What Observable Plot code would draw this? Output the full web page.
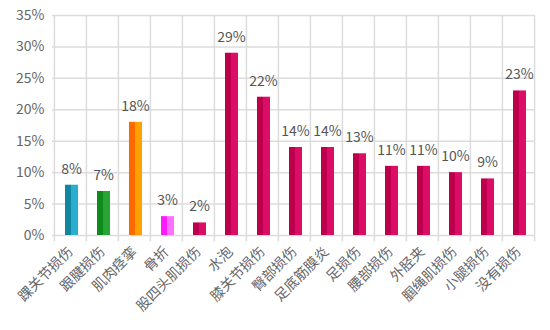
<!DOCTYPE html>
<html><head><meta charset="utf-8">
<script src="https://cdn.jsdelivr.net/npm/d3@7"></script>
<script src="https://cdn.jsdelivr.net/npm/@observablehq/plot@0.6"></script>
<style>
html,body{margin:0;padding:0;background:#fff;}
#chart{width:550px;height:330px;}
</style></head>
<body><div id="chart"></div>
<script>
const categories = ["踝关节损伤","跟腱损伤","肌肉痉挛","骨折","股四头肌损伤","水泡","膝关节损伤","臀部损伤","足底筋膜炎","足损伤","腰部损伤","外胫夹","腘绳肌损伤","小腿损伤","没有损伤"];
const values = [8,7,18,3,2,29,22,14,14,13,11,11,10,9,23];
const yTicks = [0,5,10,15,20,25,30,35];
const barColors = [
  ["#12859f","#2aaed0"],
  ["#0f8a1c","#28a534"],
  ["#ff6a00","#ffa200"],
  ["#ff1aff","#ff70ff"],
  ["#bd004c","#dc0d66"]
];
const colorIndex = [0,1,2,3,4,4,4,4,4,4,4,4,4,4,4];

const data = categories.map((c,i)=>({cat:c, v:values[i], ci:colorIndex[i]}));
const W=550,H=330, mL=52, mR=15, mT=15, mB=95;
const bw = (W-mL-mR)/categories.length;
const font = "'Noto Sans CJK SC','Open Sans',sans-serif";

const plot = Plot.plot({
  width: W, height: H,
  marginLeft: mL, marginRight: mR, marginTop: mT, marginBottom: mB,
  style: {fontFamily: font, fontSize: "13px", color: "#666", background: "#fff"},
  x: {type: "band", domain: categories, padding: 0, label: null},
  y: {domain: [0,35], label: null},
  marks: [
    Plot.ruleY(yTicks, {y: d=>d, stroke: "#dcdcdc", strokeWidth: 1.5}),
    Plot.ruleX(categories, {x: d=>d, dx: -bw/2, y1: -1, y2: 35, stroke: "#dcdcdc", strokeWidth: 1.5}),
    Plot.ruleX([categories[categories.length-1]], {x: d=>d, dx: bw/2, y1: -1, y2: 35, stroke: "#dcdcdc", strokeWidth: 1.5}),
    Plot.barY(data, {x: "cat", y: "v", fill: "#ccc", insetLeft: 11, insetRight: 8}),
    Plot.text(data, {x: "cat", y: "v", text: d=>d.v+"%", dy: -16, dx: 1, fill: "#555", fontSize: 14}),
    Plot.axisY({ticks: yTicks, tickFormat: d=>d+"%", tickSize: 0, tickPadding: 8, fill: "#666", fontSize: 14}),
    Plot.axisX({tickSize: 0, tickRotate: -45, tickPadding: 14, fill: "#666", fontSize: 14, label: null})
  ]
});
document.getElementById("chart").appendChild(plot);

const svg = d3.select(plot);
const defs = svg.insert("defs", ":first-child");
barColors.forEach((c,i)=>{
  const g = defs.append("linearGradient").attr("id","bg"+i).attr("x1","0").attr("x2","1").attr("y1","0").attr("y2","0");
  g.append("stop").attr("offset","0").attr("stop-color",c[0]);
  g.append("stop").attr("offset","0.45").attr("stop-color",c[0]);
  g.append("stop").attr("offset","0.45").attr("stop-color",c[1]);
  g.append("stop").attr("offset","1").attr("stop-color",c[1]);
});
svg.selectAll('g[aria-label="bar"] rect').each(function(_,i){
  d3.select(this).attr("fill","url(#bg"+data[i].ci+")");
});
</script></body></html>
